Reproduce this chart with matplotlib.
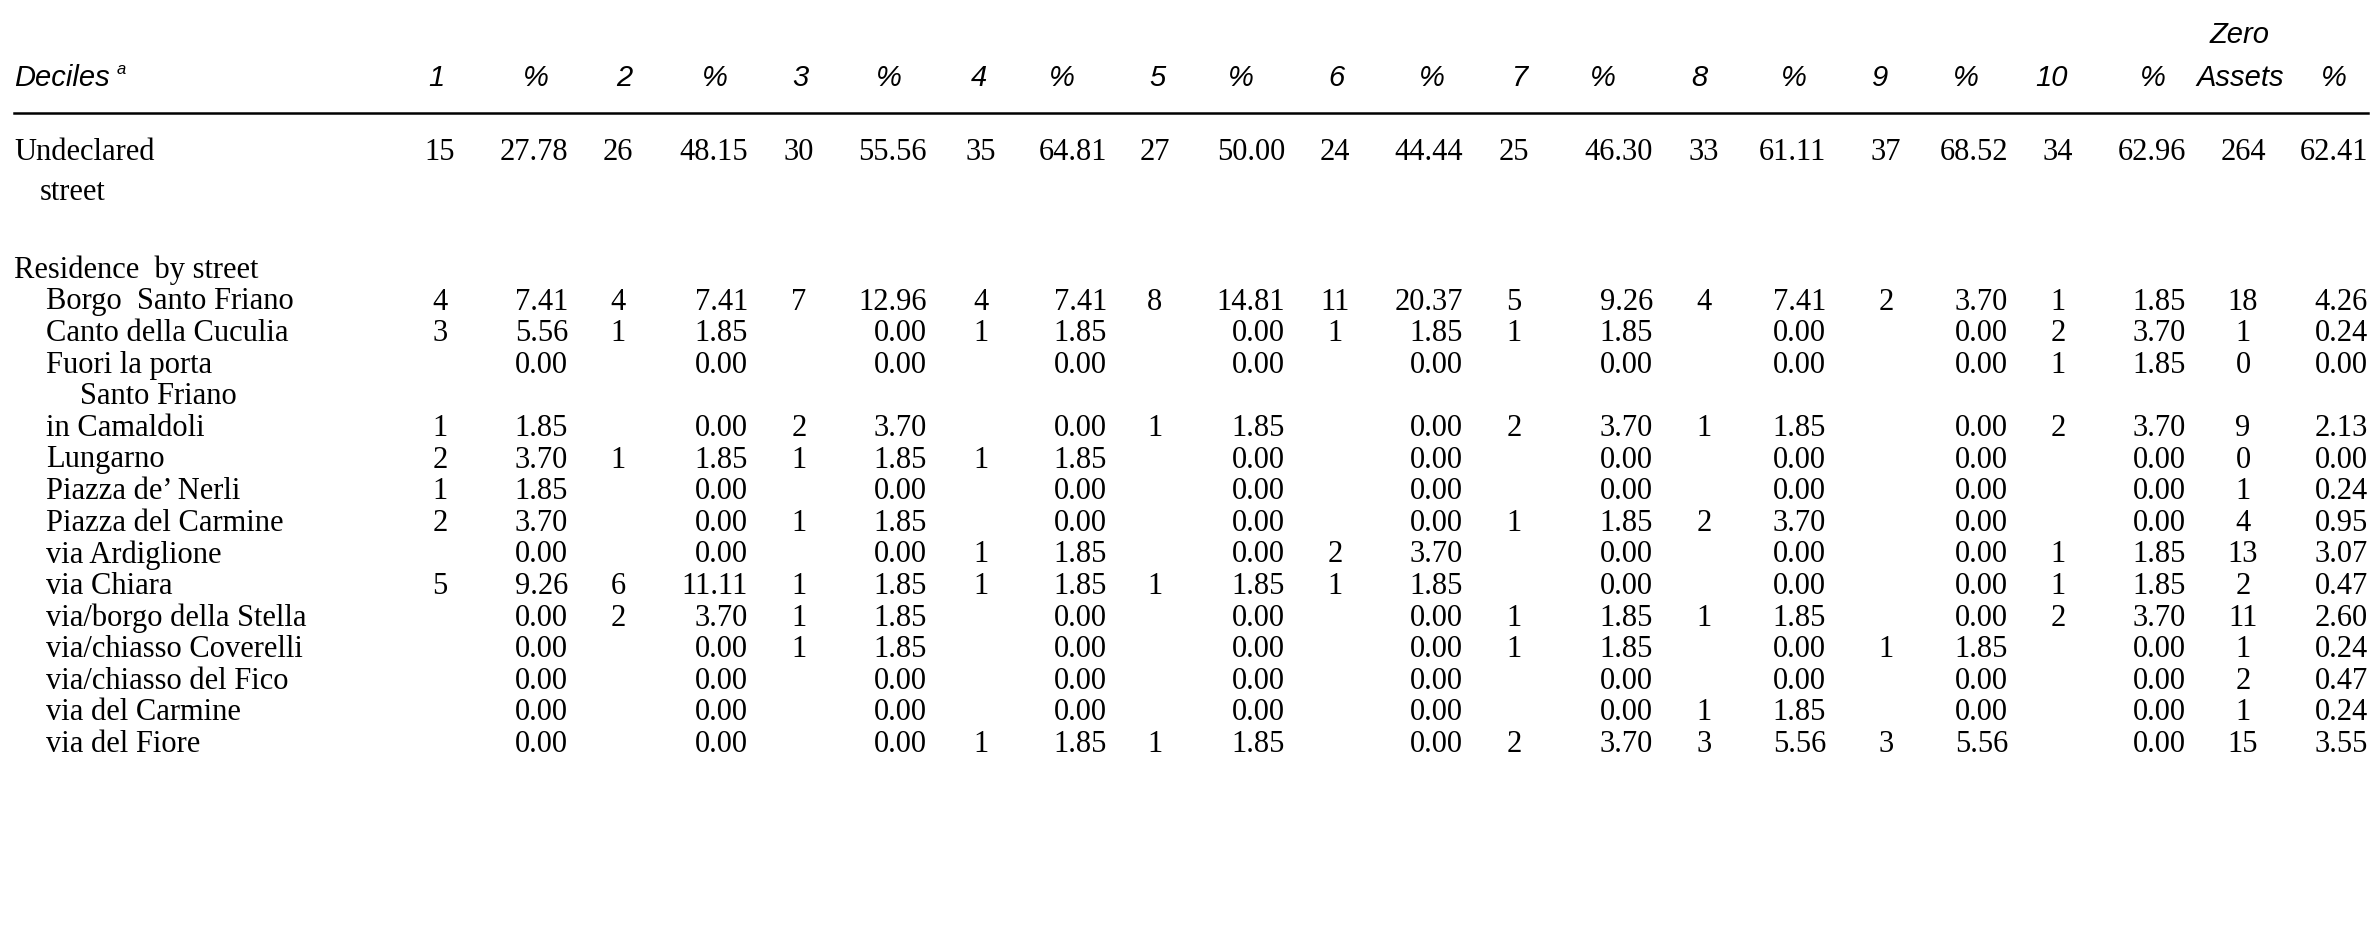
import matplotlib
matplotlib.use("Agg")
import matplotlib.pyplot as plt

W, H = 2379, 939
headers = ["1", "2", "3", "4", "5", "6", "7", "8", "9", "10", "Assets"]
row_labels = ["Undeclared", "Borgo  Santo Friano", "Canto della Cuculia", "Fuori la porta",
              "in Camaldoli", "Lungarno", "Piazza de\u2019 Nerli", "Piazza del Carmine",
              "via Ardiglione", "via Chiara", "via/borgo della Stella", "via/chiasso Coverelli",
              "via/chiasso del Fico", "via del Carmine", "via del Fiore"]
counts = [
    [15, 26, 30, 35, 27, 24, 25, 33, 37, 34, 264],
    [4, 4, 7, 4, 8, 11, 5, 4, 2, 1, 18],
    [3, 1, None, 1, None, 1, 1, None, None, 2, 1],
    [None]*9 + [1, 0],
    [1, None, 2, None, 1, None, 2, 1, None, 2, 9],
    [2, 1, 1, 1, None, None, None, None, None, None, 0],
    [1] + [None]*9 + [1],
    [2, None, 1, None, None, None, 1, 2, None, None, 4],
    [None, None, None, 1, None, 2, None, None, None, 1, 13],
    [5, 6, 1, 1, 1, 1, None, None, None, 1, 2],
    [None, 2, 1, None, None, None, 1, 1, None, 2, 11],
    [None, None, 1, None, None, None, 1, None, 1, None, 1],
    [None]*10 + [2],
    [None]*7 + [1, None, None, 1],
    [None, None, None, 1, 1, None, 2, 3, 3, None, 15],
]
pcts = [
    [27.78, 48.15, 55.56, 64.81, 50.00, 44.44, 46.30, 61.11, 68.52, 62.96, 62.41],
    [7.41, 7.41, 12.96, 7.41, 14.81, 20.37, 9.26, 7.41, 3.70, 1.85, 4.26],
    [5.56, 1.85, 0, 1.85, 0, 1.85, 1.85, 0, 0, 3.70, 0.24],
    [0]*9 + [1.85, 0],
    [1.85, 0, 3.70, 0, 1.85, 0, 3.70, 1.85, 0, 3.70, 2.13],
    [3.70, 1.85, 1.85, 1.85, 0, 0, 0, 0, 0, 0, 0],
    [1.85] + [0]*9 + [0.24],
    [3.70, 0, 1.85, 0, 0, 0, 1.85, 3.70, 0, 0, 0.95],
    [0, 0, 0, 1.85, 0, 3.70, 0, 0, 0, 1.85, 3.07],
    [9.26, 11.11, 1.85, 1.85, 1.85, 1.85, 0, 0, 0, 1.85, 0.47],
    [0, 3.70, 1.85, 0, 0, 0, 1.85, 1.85, 0, 3.70, 2.60],
    [0, 0, 1.85, 0, 0, 0, 1.85, 0, 1.85, 0, 0.24],
    [0]*10 + [0.47],
    [0]*7 + [1.85, 0, 0, 0.24],
    [0, 0, 0, 1.85, 1.85, 0, 3.70, 5.56, 5.56, 0, 3.55],
]

cnt_x = [440, 618, 799, 981, 1155, 1335, 1514, 1704, 1886, 2058, 2243]
pct_right = [568, 748, 927, 1107, 1285, 1463, 1653, 1826, 2008, 2186, 2368]
pct_hdr = [536, 715, 889, 1062, 1241, 1432, 1603, 1794, 1966, 2153, 2334]
hdr_x = [436, 624, 800, 979, 1157, 1336, 1520, 1699, 1880, 2051, 2240]
sp = 31.6
row_y = [152, 302, 302 + sp, 302 + 2 * sp] + [302 + (4 + i) * sp for i in range(11)]

fig = plt.figure(figsize=(W/100, H/100), dpi=100)
fig.patch.set_facecolor("white")
ax = fig.add_axes([0, 0, 1, 1])
ax.set_xlim(0, W); ax.set_ylim(H, 0); ax.axis("off")

serif = dict(family="Liberation Serif", fontsize=22, va="center", color="black")
sans = dict(family="Liberation Sans", fontsize=21, style="italic", va="center", color="black")

ax.text(14, 78, "Deciles", ha="left", **sans)
ax.text(117, 70, "a", ha="left", family="Liberation Sans", style="italic", fontsize=12, va="center")
for i, h in enumerate(headers):
    ax.text(hdr_x[i], 78, h, ha="center", **sans)
    ax.text(pct_hdr[i], 78, "%", ha="center", **sans)
ax.text(hdr_x[-1], 35, "Zero", ha="center", **sans)
ax.plot([14, 2368], [113, 113], color="black", lw=1.8)

for r, lab in enumerate(row_labels):
    y = row_y[r]
    x0 = 14 if r == 0 else 46
    ax.text(x0, y, lab, ha="left", **serif)
    for c in range(11):
        if counts[r][c] is not None:
            ax.text(cnt_x[c], y, str(counts[r][c]), ha="center", **serif)
        ax.text(pct_right[c], y, f"{pcts[r][c]:.2f}", ha="right", **serif)

ax.text(40, 193, "street", ha="left", **serif)
ax.text(14, 270, "Residence  by street", ha="left", **serif)
ax.text(80, 302 + 3 * sp, "Santo Friano", ha="left", **serif)

fig.savefig("out.png", dpi=100, facecolor="white")
